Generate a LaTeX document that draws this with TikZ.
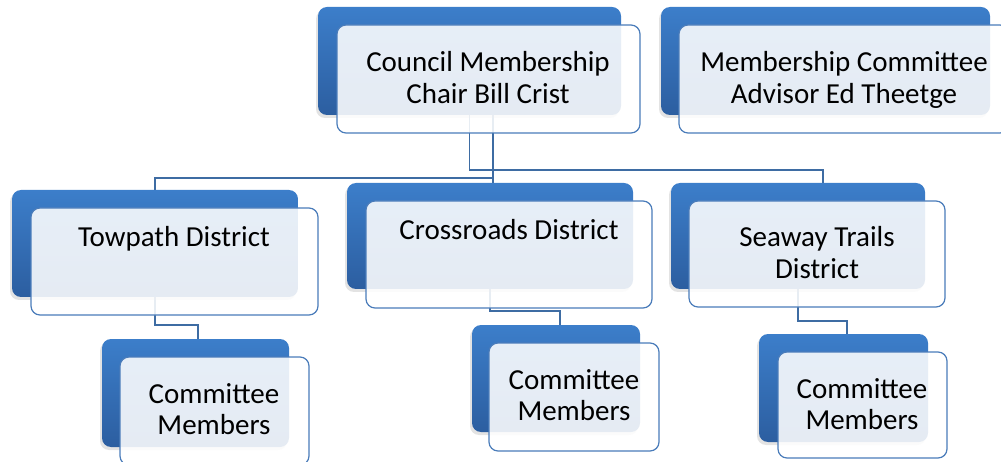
\documentclass[tikz,border=0pt]{standalone}
\usepackage{fontspec}
\setmainfont{Carlito}
\usetikzlibrary{shadows,backgrounds}
\definecolor{bTop}{RGB}{60,126,202}
\definecolor{bBot}{RGB}{44,94,160}
\definecolor{fLine}{RGB}{74,124,186}
\definecolor{cLine}{RGB}{62,108,163}
\begin{document}
\begin{tikzpicture}[x=1pt,y=-1pt,
  backbox/.style={rectangle, rounded corners=9pt, top color=bTop, bottom color=bBot,
    draw=none, anchor=north west, inner sep=0pt, outer sep=0pt,
    drop shadow={shadow xshift=-2pt, shadow yshift=-3pt, opacity=0.22}},
  frontbox/.style={rectangle, rounded corners=9pt, draw=fLine, line width=1.2pt,
    fill=white, fill opacity=0.88, anchor=north west, inner sep=0pt, outer sep=0pt},
  boxtext/.style={font=\fontsize{29}{31.5}\selectfont, text=black, inner sep=0pt, anchor=base},
  conn/.style={draw=cLine, line width=1.5pt}]
\useasboundingbox (0,0) rectangle (1001,462);
\clip (0,0) rectangle (1001,462);

% back boxes
\node[backbox, minimum width=303pt, minimum height=108pt] (councilB) at (318,7) {};
\node[backbox, minimum width=329pt, minimum height=108pt] (advisorB) at (661,7) {};
\node[backbox, minimum width=286pt, minimum height=107pt] (towB) at (12,190) {};
\node[backbox, minimum width=286pt, minimum height=106pt] (crossB) at (347,183) {};
\node[backbox, minimum width=254pt, minimum height=106pt] (seaB) at (671,183) {};
\node[backbox, minimum width=187pt, minimum height=108pt] (towCB) at (102,339) {};
\node[backbox, minimum width=168pt, minimum height=107pt] (crossCB) at (472,325) {};
\node[backbox, minimum width=169pt, minimum height=108pt] (seaCB) at (759,334) {};

% connectors (behind the boxes)
\coordinate (cx1) at (493,115);
\coordinate (crossIn) at (493,183);
\coordinate (seaIn) at (823,183);
\coordinate (towCIn) at (198,339);
\coordinate (crossCIn) at (560,325);
\coordinate (seaCIn) at (847,334);
\begin{scope}[on background layer]
\draw[conn] (cx1) -- (crossIn);
\draw[conn] (cx1) -- (493,178) -| (towB.north);
\draw[conn] (councilB.south) -- (469.5,170) -| (seaIn);
\draw[conn] (towB.south) -- (155,325) -| (towCIn);
\draw[conn] (crossB.south) -- (490,311) -| (crossCIn);
\draw[conn] (seaB.south) -- (798,321) -| (seaCIn);
\end{scope}

% front boxes
\node[frontbox, minimum width=303pt, minimum height=108pt] (councilF) at (337,25) {};
\node[frontbox, minimum width=330pt, minimum height=108pt] (advisorF) at (679,25) {};
\node[frontbox, minimum width=287pt, minimum height=107pt] (towF) at (31,208) {};
\node[frontbox, minimum width=286pt, minimum height=107pt] (crossF) at (366,201) {};
\node[frontbox, minimum width=256pt, minimum height=106pt] (seaF) at (689,201) {};
\node[frontbox, minimum width=189pt, minimum height=108pt] (towCF) at (120,357) {};
\node[frontbox, minimum width=170pt, minimum height=108pt] (crossCF) at (489,343) {};
\node[frontbox, minimum width=169pt, minimum height=106pt] (seaCF) at (778,352) {};

% texts
\node[boxtext] (councilT) at (488,72) {\begin{tabular}[t]{@{}c@{}}Council Membership\\Chair Bill Crist\end{tabular}};
\node[boxtext] (advisorT) at (844,72) {\begin{tabular}[t]{@{}c@{}}Membership Committee\\Advisor Ed Theetge\end{tabular}};
\node[boxtext] (towT) at (174,247) {Towpath District};
\node[boxtext] (crossT) at (509,240) {Crossroads District};
\node[boxtext] (seaT) at (817,247) {\begin{tabular}[t]{@{}c@{}}Seaway Trails\\District\end{tabular}};
\node[boxtext] (towCT) at (214,403) {\begin{tabular}[t]{@{}c@{}}Committee\\Members\end{tabular}};
\node[boxtext] (crossCT) at (574,389) {\begin{tabular}[t]{@{}c@{}}Committee\\Members\end{tabular}};
\node[boxtext] (seaCT) at (862,398) {\begin{tabular}[t]{@{}c@{}}Committee\\Members\end{tabular}};
\end{tikzpicture}
\end{document}
